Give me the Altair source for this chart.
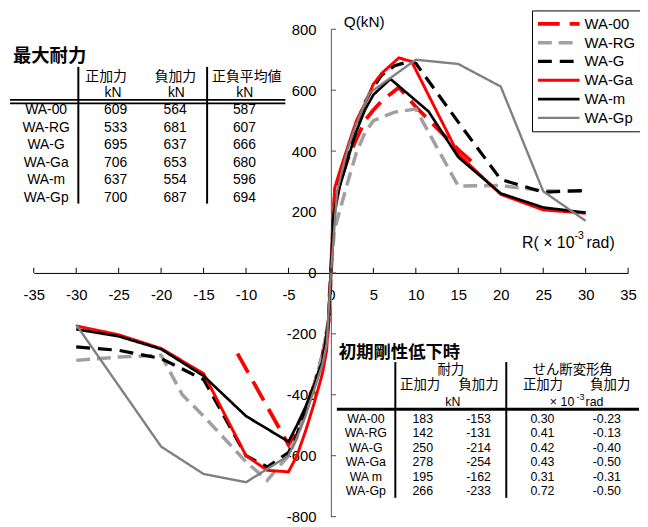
import altair as alt
import pandas as pd

# ---------------- data ----------------
series = ["WA-00", "WA-RG", "WA-G", "WA-Ga", "WA-m", "WA-Gp"]

r_wa00 = [-11, -5, -4, -3, -2, -1, -0.23, 0, 0.30, 1, 2, 3, 4, 5, 6, 8, 10, 15, 17]
q_wa00 = [-265, -564, -520, -450, -370, -270, -153, 0, 183, 290, 375, 440, 500, 535, 565, 609, 545, 405, 355]

r_rg = [-30, -25, -20, -17.5, -15, -10, -7.5, -5, -4, -3, -2, -1, -0.13, 0, 0.41, 1, 2, 3, 4, 5, 7.5, 10, 15, 20, 25, 30]
q_rg = [-287, -276, -270, -400, -470, -620, -681, -600, -540, -460, -370, -270, -131, 0, 142, 200, 300, 395, 460, 500, 528, 538, 285, 287, 270, 268]

r_g = [-30, -25, -20, -15, -10, -7.5, -5, -4, -3, -2, -1, -0.40, 0, 0.42, 1, 2, 3, 4, 5, 6, 7.5, 9.3, 10, 15, 20, 25, 30]
q_g = [-243, -254, -281, -350, -600, -637, -590, -530, -450, -370, -290, -214, 0, 250, 310, 400, 490, 560, 610, 650, 680, 695, 688, 495, 307, 265, 271]

r_ga = [-30, -25, -20, -15, -10, -7.5, -5, -4, -3, -2, -1, -0.50, 0, 0.43, 1, 2, 3, 4, 5, 6, 8, 9.5, 15, 20, 25, 30]
q_ga = [-174, -203, -248, -330, -600, -648, -653, -600, -520, -430, -330, -254, 0, 278, 330, 416, 500, 555, 620, 656, 706, 694, 390, 258, 207, 196]

r_m = [-30, -25, -20, -15, -10, -5, -4, -3, -2, -1, -0.31, 0, 0.31, 1, 2, 3, 4, 5, 7, 11.5, 15, 20, 25, 30]
q_m = [-185, -208, -250, -338, -470, -554, -500, -440, -370, -290, -162, 0, 195, 280, 375, 465, 535, 585, 637, 530, 380, 261, 215, 198]

r_gp = [-30, -20, -15, -10, -5, -4, -3, -2, -1, -0.50, 0, 0.72, 1, 2, 3, 4.5, 10, 15, 20, 25, 30]
q_gp = [-170, -570, -660, -687, -600, -540, -470, -385, -300, -233, 0, 266, 300, 410, 490, 590, 700, 686, 612, 268, 171]

x_ticks = [-35, -30, -25, -20, -15, -10, -5, 0, 5, 10, 15, 20, 25, 30, 35]
y_ticks = [-800, -600, -400, -200, 0, 200, 400, 600, 800]

# table 1 : 最大耐力
max_rows = ["WA-00", "WA-RG", "WA-G", "WA-Ga", "WA-m", "WA-Gp"]
max_pos = [609, 533, 695, 706, 637, 700]
max_neg = [564, 681, 637, 653, 554, 687]
max_avg = [587, 607, 666, 680, 596, 694]

# table 2 : 初期剛性低下時
init_rows = ["WA-00", "WA-RG", "WA-G", "WA-Ga", "WA m", "WA-Gp"]
init_q_pos = ["183", "142", "250", "278", "195", "266"]
init_q_neg = ["-153", "-131", "-214", "-254", "-162", "-233"]
init_r_pos = ["0.30", "0.41", "0.42", "0.43", "0.31", "0.72"]
init_r_neg = ["-0.23", "-0.13", "-0.40", "-0.50", "-0.31", "-0.50"]

# ---------------- styling ----------------
W, H = 600, 492
OX, OY = 34, 27  # page position of the plot area
FONT = "Liberation Sans, Noto Sans CJK JP"
JFONT = "Noto Sans CJK JP"

colors = ["#FF0000", "#A0A0A0", "#000000", "#FF0000", "#000000", "#808080"]
dashes = [[22, 10], [14, 7], [14, 8], [1, 0], [1, 0], [1, 0]]
widths = [3.8, 2.4, 2.4, 3.8, 2.2, 2.2]

rows = []
for name, rs, qs in zip(series, [r_wa00, r_rg, r_g, r_ga, r_m, r_gp],
                        [q_wa00, q_rg, q_g, q_ga, q_m, q_gp]):
    for i, (r, q) in enumerate(zip(rs, qs)):
        rows.append({"series": name, "R": r, "Q": q, "i": i})
df = pd.DataFrame(rows)

xs = alt.Scale(domain=[-35, 35], nice=False, zero=False)
ys = alt.Scale(domain=[-800, 800], nice=False, zero=False)

ax_x = alt.Axis(values=x_ticks, offset=-H / 2, ticks=False, tickSize=0, labelPadding=15,
                labelFont=FONT, labelFontSize=15, labelColor="black", domainColor="black",
                domainWidth=1, grid=False, title=None, labelFlush=False, labelOverlap=False,
                labelExpr="toString(datum.value)")
ax_y = alt.Axis(values=y_ticks, offset=-W / 2, ticks=False, tickSize=0, labelPadding=15,
                labelFont=FONT, labelFontSize=15, labelColor="black", domainColor="#707070",
                domainWidth=1.2, grid=False, title=None, labelFlush=False, labelOverlap=False,
                labelExpr="toString(datum.value)")

leg = alt.Legend(orient="none", legendX=503, legendY=-19, title=None,
                 symbolType="stroke", symbolSize=1764, labelFont=FONT,
                 labelFontSize=15, labelColor="black", strokeColor="black",
                 fillColor="white", padding=4, rowPadding=0, clipHeight=19,
                 labelOffset=3, labelLimit=120)

lines = alt.Chart(df).mark_line().encode(
    x=alt.X("R:Q", scale=xs, axis=ax_x),
    y=alt.Y("Q:Q", scale=ys, axis=ax_y),
    color=alt.Color("series:N", scale=alt.Scale(domain=series, range=colors), legend=leg),
    strokeDash=alt.StrokeDash("series:N", scale=alt.Scale(domain=series, range=dashes), legend=leg),
    strokeWidth=alt.StrokeWidth("series:N", scale=alt.Scale(domain=series, range=widths), legend=leg),
    order="i:Q",
)

# tick marks (x ticks point up, y ticks point right)
xt = pd.DataFrame({"t": x_ticks, "a": [0] * len(x_ticks), "b": [17] * len(x_ticks)})
yt = pd.DataFrame({"t": y_ticks, "a": [0] * len(y_ticks), "b": [0.6] * len(y_ticks)})
xtick_layer = alt.Chart(xt).mark_rule(color="black", strokeWidth=1).encode(
    x=alt.X("t:Q", scale=xs, axis=ax_x), y=alt.Y("a:Q", scale=ys, axis=ax_y), y2="b:Q")
ytick_layer = alt.Chart(yt).mark_rule(color="#505050", strokeWidth=1).encode(
    y=alt.Y("t:Q", scale=ys, axis=ax_y), x=alt.X("a:Q", scale=xs, axis=ax_x), x2="b:Q")

# ---------------- annotations (page pixel positions) ----------------
def P(x, y):
    return x - OX, y - OY

center_txt = []
def add_c(x, y, t, s):
    px, py = P(x, y)
    center_txt.append({"px": px, "py": py, "txt": t, "fs": s})

# table 1
add_c(107, 75, "正加力", 14)
add_c(177, 75, "負加力", 14)
add_c(249, 75, "正負平均値", 14)
add_c(114, 91, "kN", 14)
add_c(178, 91, "kN", 14)
add_c(247, 91, "kN", 14)
for k in range(6):
    yy = 109 + 17.6 * k
    add_c(46.5, yy, max_rows[k], 14)
    add_c(116.7, yy, str(max_pos[k]), 14)
    add_c(176.7, yy, str(max_neg[k]), 14)
    add_c(246.7, yy, str(max_avg[k]), 14)

# table 2
add_c(455, 371, "耐力", 13.5)
add_c(578, 371, "せん断変形角", 13.5)
add_c(424, 386, "正加力", 13.5)
add_c(483, 386, "負加力", 13.5)
add_c(548, 386, "正加力", 13.5)
add_c(616, 386, "負加力", 13.5)
add_c(457, 403, "kN", 12.5)
for k in range(6):
    yy = 420 + 14.65 * k
    add_c(369.3, yy, init_rows[k], 12.5)
    add_c(426.7, yy, init_q_pos[k], 12.5)
    add_c(483, yy, init_q_neg[k], 12.5)
    add_c(547.5, yy, init_r_pos[k], 12.5)
    add_c(612.5, yy, init_r_neg[k], 12.5)

left_txt = []
def add_l(x, y, t, s):
    px, py = P(x, y)
    left_txt.append({"px": px, "py": py, "txt": t, "fs": s})

add_l(347, 20, "Q(kN)", 15.5)
add_l(527, 243, "R( × 10", 16)
add_l(580, 236, "-3", 10.5)
add_l(592, 243, "rad)", 16)
add_l(555, 403, "× 10", 12.5)
add_l(582, 398, "-3", 9)
add_l(591, 403, "rad", 12.5)

bold_txt = []
for (x, y, t, s) in [(13, 54, "最大耐力", 18.5), (342, 354, "初期剛性低下時", 17.5)]:
    px, py = P(x, y)
    bold_txt.append({"px": px, "py": py, "txt": t, "fs": s})

def text_layer(data, align, weight, font):
    return alt.Chart(pd.DataFrame(data)).mark_text(
        align=align, baseline="middle", font=font, fontWeight=weight, color="black"
    ).encode(
        x=alt.X("px:Q", scale=None, axis=None),
        y=alt.Y("py:Q", scale=None, axis=None),
        text="txt:N",
        size=alt.Size("fs:Q", scale=None, legend=None),
    )

t_center = text_layer(center_txt, "center", "normal", FONT)
t_left = text_layer(left_txt, "left", "normal", FONT)
t_bold = text_layer(bold_txt, "left", "bold", JFONT)

# table rules
rl = []
def add_rule(x1, y1, x2, y2, w):
    a = P(x1, y1)
    b = P(x2, y2)
    rl.append({"x1": a[0], "y1": a[1], "x2": b[0], "y2": b[1], "w": w})

add_rule(79, 65, 79, 203, 2)
add_rule(209, 65, 209, 203, 2)
add_rule(10, 98.3, 288, 98.3, 1.8)
add_rule(10, 101.8, 288, 101.8, 1.8)
add_rule(399, 363, 399, 500, 2)
add_rule(511, 363, 511, 500, 2)
add_rule(340, 410.7, 645, 410.7, 3)

rule_layer = alt.Chart(pd.DataFrame(rl)).mark_rule(color="black").encode(
    x=alt.X("x1:Q", scale=None, axis=None),
    y=alt.Y("y1:Q", scale=None, axis=None),
    x2="x2:Q", y2="y2:Q",
    strokeWidth=alt.StrokeWidth("w:Q", scale=None, legend=None),
)

chart = alt.layer(
    lines, xtick_layer, ytick_layer, rule_layer, t_center, t_left, t_bold
).properties(
    width=W, height=H,
    padding={"left": OX - 8, "top": OY - 8, "right": 12, "bottom": 8},
    autosize=alt.AutoSizeParams(type="none"),
).configure_view(strokeWidth=0)

chart.save("out.html", embed_options={"renderer": "svg", "actions": False})
